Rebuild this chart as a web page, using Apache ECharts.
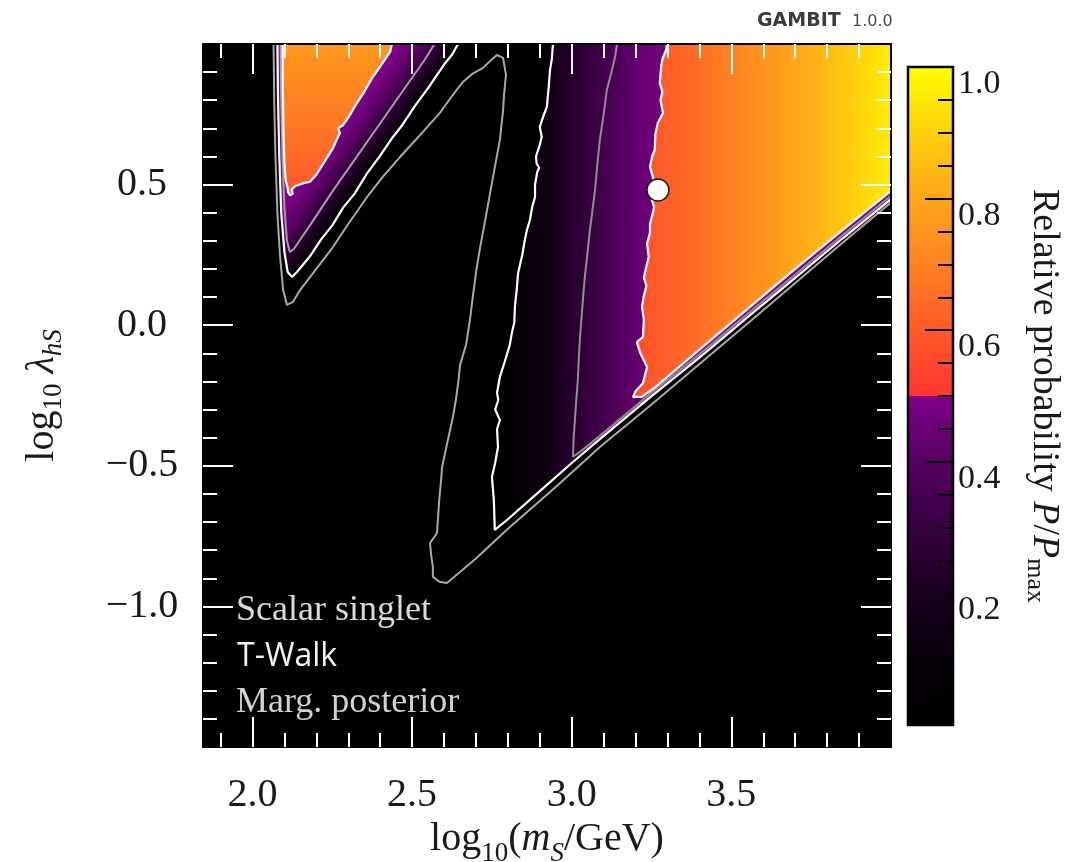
<!DOCTYPE html>
<html><head><meta charset="utf-8">
<script src="https://cdn.jsdelivr.net/npm/echarts@6/dist/echarts.min.js"></script>
<style>html,body{margin:0;padding:0;background:#fff}#c{width:1071px;height:862px}</style>
</head><body><div id="c"></div>
<script>
// ---------- data ----------
const xRange = [1.845, 4.0];
const yRange = [-1.5, 1.0];
const xMajor = [2.0, 2.5, 3.0, 3.5];
const xMinor = [1.9,2.1,2.2,2.3,2.4,2.6,2.7,2.8,2.9,3.1,3.2,3.3,3.4,3.6,3.7,3.8,3.9];
const yMajor = [-1.0, -0.5, 0.0, 0.5];
const yMinor = [-1.4,-1.3,-1.2,-1.1,-0.9,-0.8,-0.7,-0.6,-0.4,-0.3,-0.2,-0.1,0.1,0.2,0.3,0.4,0.6,0.7,0.8,0.9];
const cbMajor = [0.2, 0.4, 0.6, 0.8, 1.0];
const cbMinor = [0.05,0.1,0.15,0.25,0.3,0.35,0.45,0.5,0.55,0.65,0.7,0.75,0.85,0.9,0.95];

// colour map (relative probability -> colour)
const cmapValues = [0, 0.1, 0.2, 0.3, 0.4, 0.5, 0.5, 0.6, 0.7, 0.8, 0.9, 1.0];
const cmapColors = ['#000000','#070009','#1b0021','#36003f','#560062','#82008a','#ff3530','#ff5a29','#ff8222','#ffa619','#ffd00c','#ffff00'];

// contour lines (log10 m_S, log10 lambda_hS)
const greyOuter = [[2.066,1.0],[2.068,0.80],[2.072,0.60],[2.078,0.40],[2.086,0.25],[2.096,0.125],[2.108,0.072],[2.127,0.083],[2.149,0.125],[2.200,0.200],[2.252,0.278],[2.300,0.360],[2.359,0.456],[2.410,0.530],[2.462,0.598],[2.520,0.670],[2.587,0.755],[2.625,0.815],[2.659,0.865],[2.690,0.895],[2.722,0.915],[2.745,0.940],[2.766,0.961],[2.785,0.950],[2.794,0.890],[2.788,0.820],[2.785,0.765],[2.775,0.659],[2.762,0.580],[2.750,0.506],[2.738,0.430],[2.725,0.349],[2.712,0.270],[2.700,0.186],[2.690,0.100],[2.681,0.018],[2.669,-0.070],[2.650,-0.142],[2.645,-0.200],[2.637,-0.266],[2.628,-0.326],[2.612,-0.408],[2.594,-0.504],[2.590,-0.560],[2.585,-0.620],[2.578,-0.739],[2.556,-0.775],[2.560,-0.820],[2.565,-0.860],[2.565,-0.895],[2.585,-0.912],[2.609,-0.917],[2.700,-0.830],[2.800,-0.724],[2.950,-0.575],[3.088,-0.433],[3.250,-0.282],[3.400,-0.138],[3.550,0.005],[3.700,0.150],[3.850,0.295],[4.000,0.436]];
const whiteLeft = [[2.078,1.0],[2.080,0.80],[2.084,0.60],[2.090,0.40],[2.100,0.26],[2.110,0.19],[2.124,0.171],[2.140,0.190],[2.180,0.245],[2.215,0.305],[2.250,0.355],[2.285,0.420],[2.320,0.468],[2.360,0.542],[2.400,0.603],[2.435,0.662],[2.470,0.713],[2.510,0.782],[2.550,0.843],[2.600,0.927],[2.625,0.962],[2.644,1.0]];
const greyInnerLeft = [[2.088,1.0],[2.090,0.80],[2.094,0.60],[2.100,0.42],[2.108,0.30],[2.117,0.260],[2.130,0.272],[2.180,0.355],[2.250,0.475],[2.330,0.605],[2.400,0.718],[2.480,0.848],[2.540,0.945],[2.570,1.0]];
const orangeLeft = [[2.094,1.0],[2.095,0.85],[2.097,0.70],[2.100,0.58],[2.104,0.515],[2.110,0.488],[2.112,0.472],[2.118,0.462],[2.126,0.468],[2.122,0.482],[2.134,0.495],[2.160,0.505],[2.180,0.510],[2.200,0.535],[2.233,0.595],[2.250,0.625],[2.262,0.655],[2.274,0.684],[2.268,0.700],[2.284,0.712],[2.300,0.738],[2.327,0.790],[2.350,0.830],[2.377,0.883],[2.400,0.920],[2.431,0.972],[2.437,1.0]];
const whiteMid = [[2.941,1.0],[2.938,0.950],[2.932,0.908],[2.928,0.850],[2.922,0.776],[2.910,0.740],[2.900,0.705],[2.906,0.670],[2.900,0.641],[2.888,0.600],[2.890,0.575],[2.898,0.560],[2.892,0.545],[2.885,0.500],[2.885,0.456],[2.876,0.420],[2.869,0.374],[2.860,0.340],[2.853,0.303],[2.845,0.250],[2.832,0.186],[2.828,0.130],[2.822,0.065],[2.820,0.010],[2.812,-0.030],[2.806,-0.070],[2.790,-0.130],[2.775,-0.184],[2.766,-0.240],[2.770,-0.266],[2.760,-0.300],[2.775,-0.337],[2.766,-0.370],[2.769,-0.433],[2.760,-0.490],[2.750,-0.540],[2.756,-0.622],[2.759,-0.728],[2.800,-0.690],[2.900,-0.590],[3.000,-0.490],[3.088,-0.405],[3.250,-0.252],[3.400,-0.115],[3.550,0.028],[3.700,0.168],[3.850,0.310],[4.000,0.448]];
const greyMid = [[3.142,1.0],[3.135,0.950],[3.126,0.908],[3.110,0.836],[3.100,0.750],[3.088,0.659],[3.080,0.570],[3.073,0.481],[3.065,0.410],[3.057,0.339],[3.048,0.243],[3.040,0.160],[3.035,0.090],[3.026,-0.042],[3.022,-0.120],[3.019,-0.195],[3.014,-0.270],[3.010,-0.337],[3.006,-0.400],[3.004,-0.468],[3.030,-0.447],[3.088,-0.393],[3.250,-0.240],[3.400,-0.103],[3.550,0.040],[3.700,0.180],[3.850,0.322],[4.000,0.460]];
const orangeRight = [[3.298,1.0],[3.296,0.979],[3.285,0.950],[3.280,0.920],[3.276,0.861],[3.284,0.830],[3.278,0.800],[3.286,0.755],[3.270,0.720],[3.262,0.680],[3.260,0.623],[3.252,0.600],[3.245,0.563],[3.256,0.520],[3.262,0.500],[3.251,0.445],[3.258,0.420],[3.254,0.399],[3.245,0.360],[3.245,0.328],[3.236,0.290],[3.241,0.243],[3.232,0.200],[3.226,0.170],[3.234,0.140],[3.225,0.100],[3.220,0.065],[3.226,0.020],[3.223,-0.042],[3.204,-0.060],[3.215,-0.100],[3.236,-0.149],[3.223,-0.206],[3.200,-0.235],[3.192,-0.255],[3.189,-0.262],[3.220,-0.255],[3.260,-0.222],[3.400,-0.087],[3.550,0.057],[3.700,0.200],[3.850,0.340],[4.000,0.478]];

// filled-region shading: gradient anchors and relative-probability stops
const leftGradAnchor = [[2.327,0.790],[2.449,0.691]];
const leftGradStops = [[0,0.49],[0.35,0.42],[0.62,0.30],[1,0.10]];
const midGradAnchor = [[2.82,0.0],[3.30,0.0]];
const midGradStops = [[0,0.03],[0.2,0.13],[0.4,0.25],[0.6,0.35],[0.8,0.43],[1,0.48]];
const orangeLeftAnchor = [[2.25,1.0],[2.25,0.46]];
const orangeLeftStops = [[0,0.76],[0.5,0.68],[1,0.58]];
const rightGradAnchor = [[3.2,0.0],[4.0,0.0]];
const rightGradStops = [[0,0.57],[0.25,0.65],[0.5,0.75],[0.75,0.85],[1,0.96]];

const bestFit = [[3.27, 0.481]];

// ---------- helpers ----------
function hex2rgb(h){return [parseInt(h.slice(1,3),16),parseInt(h.slice(3,5),16),parseInt(h.slice(5,7),16)];}
function cmap(v){
  for(let i=0;i<cmapValues.length-1;i++){
    const a=cmapValues[i], b=cmapValues[i+1];
    if(b>a && v>=a && v<=b){
      const t=(v-a)/(b-a), c0=hex2rgb(cmapColors[i]), c1=hex2rgb(cmapColors[i+1]);
      return 'rgb('+c0.map((c,k)=>Math.round(c+(c1[k]-c)*t)).join(',')+')';
    }
  }
  return v<=0?cmapColors[0]:cmapColors[cmapColors.length-1];
}
const fmt = v => (v<0?'\u2212':'') + Math.abs(v).toFixed(1);

const regions = [
  {pts: whiteLeft, anchor: leftGradAnchor, stops: leftGradStops},
  {pts: whiteMid.concat([[xRange[1], yRange[1]]]), anchor: midGradAnchor, stops: midGradStops},
  {pts: orangeLeft, anchor: orangeLeftAnchor, stops: orangeLeftStops},
  {pts: orangeRight.concat([[xRange[1], yRange[1]]]), anchor: rightGradAnchor, stops: rightGradStops}
];

const SERIF = 'Liberation Serif';
const TXT = '#1a1a1a';
function richSet(main, sub, f){
  const base = {fontFamily: SERIF, color: TXT};
  const lh = Math.round(main*f);
  return {
    n: Object.assign({}, base, {fontSize: main, lineHeight: lh, verticalAlign: 'top'}),
    i: Object.assign({}, base, {fontSize: main, lineHeight: lh, verticalAlign: 'top', fontStyle: 'italic'}),
    s: Object.assign({}, base, {fontSize: sub, lineHeight: sub, verticalAlign: 'bottom'}),
    si: Object.assign({}, base, {fontSize: sub, lineHeight: sub, verticalAlign: 'bottom', fontStyle: 'italic'})
  };
}

function tickAxis(pos, grid, range, vals, len, color, extra, showLine){
  return Object.assign({
    type: 'value', gridIndex: grid, position: pos, min: range[0], max: range[1], z: 6,
    axisLine: {show: showLine !== false, onZero: false, lineStyle: {color: '#000', width: 2}},
    axisTick: {show: true, inside: true, length: len, customValues: vals, lineStyle: {color: color, width: 2}},
    axisLabel: {show: false}, splitLine: {show: false}
  }, extra || {});
}

const chart = echarts.init(document.getElementById('c'), null, {renderer: 'canvas'});
const mainGrid = {left: 203, top: 44, width: 688, height: 703, outerBoundsMode: 'none', containLabel: false};
const cbGrid = {left: 908, top: 67, width: 45, height: 658, outerBoundsMode: 'none', containLabel: false};

const tickLabel = {show: true, fontFamily: SERIF, fontSize: 40, color: TXT, formatter: fmt};

const option = {
  animation: false,
  backgroundColor: '#fff',
  grid: [
    Object.assign({show: true, backgroundColor: '#000', borderWidth: 0}, mainGrid),
    Object.assign({show: false}, mainGrid),
    Object.assign({show: false}, cbGrid),
    Object.assign({show: false}, cbGrid)
  ],
  xAxis: [
    tickAxis('bottom', 0, xRange, xMajor, 30, '#fff', {
      axisLabel: Object.assign({}, tickLabel, {customValues: xMajor, margin: 28}),
      name: '{n|log}{s|10}{n|(}{i|m}{si|S}{n|/GeV)}', nameLocation: 'middle', nameGap: 62,
      nameTextStyle: {rich: richSet(40, 27, 1.2)}
    }),
    tickAxis('top', 0, xRange, xMajor, 30, '#fff'),
    tickAxis('bottom', 1, xRange, xMinor, 14, '#fff', null, false),
    tickAxis('top', 1, xRange, xMinor, 14, '#fff', null, false),
    {type: 'value', gridIndex: 2, min: 0, max: 1, show: false},
    {type: 'value', gridIndex: 3, min: 0, max: 1, show: false}
  ],
  yAxis: [
    tickAxis('left', 0, yRange, yMajor, 30, '#fff', {
      axisLabel: Object.assign({}, tickLabel, {customValues: yMajor, margin: 61, align: 'center'}),
      name: '{n|log}{s|10}{n| }{i|λ}{si|hS}', nameLocation: 'middle', nameGap: 136, nameRotate: 90,
      nameTextStyle: {rich: richSet(40, 27, 1.12)}
    }),
    tickAxis('right', 0, yRange, yMajor, 30, '#fff'),
    tickAxis('left', 1, yRange, yMinor, 14, '#fff', null, false),
    tickAxis('right', 1, yRange, yMinor, 14, '#fff', null, false),
    tickAxis('right', 2, [0, 1], cbMajor, 28, '#000', {
      axisLabel: {show: true, customValues: cbMajor, fontFamily: SERIF, fontSize: 34, color: TXT, margin: 5,
                  verticalAlign: 'top', formatter: v => v.toFixed(1)},
      name: '{n|Relative probability }{i|P}{n|/}{i|P}{s|max}', nameLocation: 'middle', nameGap: 69, nameRotate: -90,
      nameMoveOverlap: false,
      nameTextStyle: {rich: richSet(38, 26, 1.08)}
    }, false),
    tickAxis('right', 3, [0, 1], cbMinor, 15, '#000', null, false)
  ],
  series: [
    {
      type: 'custom', xAxisIndex: 0, yAxisIndex: 0, clip: true, silent: true, z: 1,
      data: regions.map((r, i) => [i, 0]),
      renderItem: function(params, api){
        const r = regions[params.dataIndex];
        const a = api.coord(r.anchor[0]), b = api.coord(r.anchor[1]);
        return {
          type: 'polygon',
          shape: {points: r.pts.map(p => api.coord(p))},
          style: {fill: {type: 'linear', x: a[0], y: a[1], x2: b[0], y2: b[1], global: true,
                   colorStops: r.stops.map(s => ({offset: s[0], color: cmap(s[1])}))}, stroke: null}
        };
      }
    },
    {type: 'line', xAxisIndex: 0, yAxisIndex: 0, data: greyOuter, symbol: 'none', silent: true, z: 3, lineStyle: {color: '#a9a9a9', width: 2}},
    {type: 'line', xAxisIndex: 0, yAxisIndex: 0, data: greyInnerLeft, symbol: 'none', silent: true, z: 3, lineStyle: {color: '#a0a0a0', width: 2}},
    {type: 'line', xAxisIndex: 0, yAxisIndex: 0, data: greyMid, symbol: 'none', silent: true, z: 3, lineStyle: {color: '#8f8f8f', width: 2}},
    {type: 'line', xAxisIndex: 0, yAxisIndex: 0, data: whiteLeft, symbol: 'none', silent: true, z: 4, lineStyle: {color: '#ffffff', width: 2.2}},
    {type: 'line', xAxisIndex: 0, yAxisIndex: 0, data: whiteMid, symbol: 'none', silent: true, z: 4, lineStyle: {color: '#ffffff', width: 2.2}},
    {type: 'line', xAxisIndex: 0, yAxisIndex: 0, data: orangeLeft, symbol: 'none', silent: true, z: 4, lineStyle: {color: '#ffffff', width: 2.2}},
    {type: 'line', xAxisIndex: 0, yAxisIndex: 0, data: orangeRight, symbol: 'none', silent: true, z: 4, lineStyle: {color: '#ffffff', width: 2.2}},
    {type: 'scatter', xAxisIndex: 0, yAxisIndex: 0, data: bestFit, symbol: 'circle', symbolSize: 22, silent: true, z: 8,
     itemStyle: {color: '#ffffff', borderColor: '#1a1a1a', borderWidth: 1.5, opacity: 1}},
    {
      type: 'custom', xAxisIndex: 4, yAxisIndex: 4, silent: true, z: 1,
      data: [[0.5, 0.5]],
      renderItem: function(params, api){
        const p0 = api.coord([0, 1]), p1 = api.coord([1, 0]);
        const stops = [];
        for (let k = cmapValues.length - 1; k >= 0; k--) stops.push({offset: 1 - cmapValues[k], color: cmapColors[k]});
        return {
          type: 'rect',
          shape: {x: p0[0], y: p0[1], width: p1[0]-p0[0], height: p1[1]-p0[1]},
          style: {fill: {type: 'linear', x: p0[0], y: p0[1], x2: p0[0], y2: p1[1], global: true, colorStops: stops},
                  stroke: '#000', lineWidth: 2.5}
        };
      }
    }
  ],
  graphic: [
    {type: 'text', x: 757, y: 21, z: 20, style: {text: 'GAMBIT', fontFamily: 'DejaVu Sans', fontSize: 19, fontWeight: 'bold', fill: '#3c3c3c', verticalAlign: 'middle'}},
    {type: 'text', x: 852, y: 22, z: 20, style: {text: '1.0.0', fontFamily: 'DejaVu Sans', fontSize: 16, fill: '#4a4a4a', verticalAlign: 'middle'}},
    {type: 'text', x: 236, y: 611, z: 20, style: {text: 'Scalar singlet', fontFamily: SERIF, fontSize: 36, fill: '#dadada', verticalAlign: 'middle'}},
    {type: 'text', x: 237, y: 657, z: 20, style: {text: 'T-Walk', fontFamily: 'Open Sans', fontSize: 32, fill: '#f2f2f2', verticalAlign: 'middle'}},
    {type: 'text', x: 236, y: 703, z: 20, style: {text: 'Marg. posterior', fontFamily: SERIF, fontSize: 36, fill: '#d2d2d2', verticalAlign: 'middle'}}
  ]
};
chart.setOption(option);
</script>
</body></html>
